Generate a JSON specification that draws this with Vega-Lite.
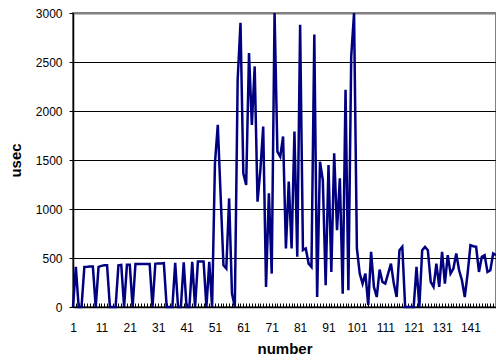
{
  "$schema": "https://vega.github.io/schema/vega-lite/v6.json",
  "width": 423,
  "height": 294,
  "autosize": {"type": "none"},
  "padding": {"left": 73, "top": 13, "right": 0, "bottom": 55},
  "background": "white",
  "config": {
    "view": {"stroke": "#808080", "strokeWidth": 2},
    "font": "Liberation Sans"
  },
  "data": {
    "values": [
      {"n":1,"v":0},{"n":2,"v":409},{"n":3,"v":0},{"n":4,"v":0},{"n":5,"v":409},
      {"n":6,"v":410},{"n":7,"v":412},{"n":8,"v":412},{"n":9,"v":0},{"n":10,"v":410},
      {"n":11,"v":420},{"n":12,"v":425},{"n":13,"v":425},{"n":14,"v":0},{"n":15,"v":0},
      {"n":16,"v":0},{"n":17,"v":425},{"n":18,"v":430},{"n":19,"v":0},{"n":20,"v":430},
      {"n":21,"v":430},{"n":22,"v":0},{"n":23,"v":440},{"n":24,"v":440},{"n":25,"v":440},
      {"n":26,"v":440},{"n":27,"v":440},{"n":28,"v":440},{"n":29,"v":0},{"n":30,"v":440},
      {"n":31,"v":445},{"n":32,"v":445},{"n":33,"v":448},{"n":34,"v":0},{"n":35,"v":0},
      {"n":36,"v":0},{"n":37,"v":450},{"n":38,"v":0},{"n":39,"v":0},{"n":40,"v":455},
      {"n":41,"v":0},{"n":42,"v":0},{"n":43,"v":460},{"n":44,"v":0},{"n":45,"v":465},
      {"n":46,"v":465},{"n":47,"v":465},{"n":48,"v":0},{"n":49,"v":460},{"n":50,"v":0},
      {"n":51,"v":1466},{"n":52,"v":1860},{"n":53,"v":1140},{"n":54,"v":426},{"n":55,"v":392},
      {"n":56,"v":1108},{"n":57,"v":136},{"n":58,"v":0},{"n":59,"v":2319},{"n":60,"v":2900},
      {"n":61,"v":1364},{"n":62,"v":1245},{"n":63,"v":2592},{"n":64,"v":1858},{"n":65,"v":2455},
      {"n":66,"v":1074},{"n":67,"v":1400},{"n":68,"v":1841},{"n":69,"v":205},{"n":70,"v":1160},
      {"n":71,"v":341},{"n":72,"v":3000},{"n":73,"v":1586},{"n":74,"v":1535},{"n":75,"v":1740},
      {"n":76,"v":597},{"n":77,"v":1279},{"n":78,"v":597},{"n":79,"v":1790},{"n":80,"v":512},
      {"n":81,"v":2880},{"n":82,"v":580},{"n":83,"v":597},{"n":84,"v":443},{"n":85,"v":409},
      {"n":86,"v":2780},{"n":87,"v":102},{"n":88,"v":1483},{"n":89,"v":1296},{"n":90,"v":222},
      {"n":91,"v":1449},{"n":92,"v":358},{"n":93,"v":1569},{"n":94,"v":784},{"n":95,"v":1313},
      {"n":96,"v":136},{"n":97,"v":2217},{"n":98,"v":170},{"n":99,"v":2558},{"n":100,"v":3000},
      {"n":101,"v":597},{"n":102,"v":341},{"n":103,"v":239},{"n":104,"v":341},{"n":105,"v":20},
      {"n":106,"v":563},{"n":107,"v":205},{"n":108,"v":102},{"n":109,"v":382},{"n":110,"v":256},
      {"n":111,"v":239},{"n":112,"v":341},{"n":113,"v":443},{"n":114,"v":239},{"n":115,"v":102},
      {"n":116,"v":580},{"n":117,"v":614},{"n":118,"v":0},{"n":119,"v":0},{"n":120,"v":0},
      {"n":121,"v":0},{"n":122,"v":409},{"n":123,"v":0},{"n":124,"v":580},{"n":125,"v":614},
      {"n":126,"v":580},{"n":127,"v":256},{"n":128,"v":205},{"n":129,"v":443},{"n":130,"v":205},
      {"n":131,"v":563},{"n":132,"v":239},{"n":133,"v":529},{"n":134,"v":341},{"n":135,"v":392},
      {"n":136,"v":546},{"n":137,"v":375},{"n":138,"v":273},{"n":139,"v":102},{"n":140,"v":341},
      {"n":141,"v":631},{"n":142,"v":620},{"n":143,"v":614},{"n":144,"v":358},{"n":145,"v":512},
      {"n":146,"v":529},{"n":147,"v":358},{"n":148,"v":375},{"n":149,"v":546},{"n":150,"v":529}
    ]
  },
  "mark": {"type": "line", "stroke": "#000080", "strokeWidth": 2.5, "clip": false},
  "encoding": {
    "x": {
      "field": "n",
      "type": "ordinal",
      "scale": {"type": "point", "padding": 0},
      "axis": {
        "title": "number",
        "titleFont": "Liberation Sans",
        "titleFontSize": 15,
        "titleFontWeight": "bold",
        "titleColor": "black",
        "titlePadding": 8,
        "labelAngle": 0,
        "labelFont": "Liberation Sans",
        "labelFontSize": 12,
        "labelColor": "black",
        "labelExpr": "(datum.value - 1) % 10 === 0 ? datum.label : ''",
        "labelOverlap": false,
        "labelBound": false,
        "labelPadding": 19,
        "tickSize": -4,
        "tickColor": "black",
        "tickWidth": 1,
        "domainColor": "black",
        "domainWidth": 1.5,
        "grid": false
      }
    },
    "y": {
      "field": "v",
      "type": "quantitative",
      "scale": {"domain": [0, 3000], "nice": false},
      "axis": {
        "title": "usec",
        "titleFont": "Liberation Sans",
        "titleFontSize": 15,
        "titleFontWeight": "bold",
        "titleColor": "black",
        "titlePadding": 12,
        "values": [0, 500, 1000, 1500, 2000, 2500, 3000],
        "format": "d",
        "labelFont": "Liberation Sans",
        "labelFontSize": 12,
        "labelColor": "black",
        "labelPadding": 7,
        "tickSize": 4,
        "tickColor": "black",
        "domainColor": "black",
        "domainWidth": 1.5,
        "grid": true,
        "gridColor": {"condition": {"test": "datum.value === 3000", "value": "#808080"}, "value": "black"},
        "gridWidth": {"condition": {"test": "datum.value === 3000", "value": 2}, "value": 1}
      }
    }
  }
}
